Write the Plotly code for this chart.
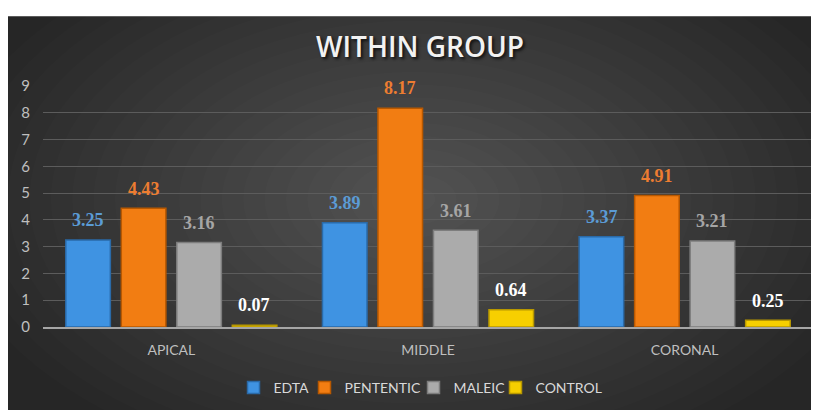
import plotly.graph_objects as go

categories = ["APICAL", "MIDDLE", "CORONAL"]
series_names = ["EDTA", "PENTENTIC", "MALEIC", "CONTROL"]
edta = [3.25, 3.89, 3.37]
pententic = [4.43, 8.17, 4.91]
maleic = [3.16, 3.61, 3.21]
control = [0.07, 0.64, 0.25]
y_ticks = [0, 1, 2, 3, 4, 5, 6, 7, 8, 9]

values = [edta, pententic, maleic, control]
bar_colors = ["#3f93e2", "#f27d12", "#ababab", "#f7cf00"]
edge_colors = ["#2a6aa8", "#b85800", "#7d7d7d", "#b89800"]
label_colors = ["#5b9bd5", "#ed7d31", "#a5a5a5", "#ffffff"]
legend_widths = [26, 64, 37, 70]

# page has the default 8px body margin; full page (418 tall) is fitted to 410
OFF = 8
WIN_W, WIN_H = 819, 410
S = (WIN_H + 2 * OFF) / WIN_H
W, H = WIN_W - OFF, WIN_H - OFF


def fy(page_y):
    return page_y * S - OFF


AX_L, AX_R, AX_T, AX_B = 43, 813, 83, 332
ML, MR = AX_L - OFF, WIN_W - AX_R
MT, MB = fy(AX_T), H - fy(AX_B)
PW, PH = AX_R - AX_L, AX_B - AX_T


def px_x(px):
    return (px - AX_L) / PW


def px_y(py):
    return (AX_B - py) / PH


fig = go.Figure()
for name, vals, c, e, lw in zip(series_names, values, bar_colors, edge_colors, legend_widths):
    fig.add_trace(go.Bar(
        name=name, x=categories, y=vals,
        marker=dict(color=c, line=dict(color=e, width=1.5)),
        legendwidth=lw,
        hoverinfo="x+y",
    ))

shapes = []
shapes.append(dict(type="rect", xref="paper", yref="paper",
                   x0=px_x(8), x1=px_x(830), y0=px_y(430), y1=px_y(11),
                   fillcolor="#262626", line=dict(width=0), layer="below"))
n = 22
cx, cy = 414, 200
for i in range(n):
    k = 1 - i / n
    rx, ry = 470 * k, 290 * k
    shapes.append(dict(type="circle", xref="paper", yref="paper",
                       x0=px_x(cx - rx), x1=px_x(cx + rx),
                       y0=px_y(cy + ry), y1=px_y(cy - ry),
                       fillcolor="rgba(255,255,255,0.013)",
                       line=dict(width=0), layer="below"))

slot = 55.4
annotations = []
for si, (vals, lc) in enumerate(zip(values, label_colors)):
    for cat, v in zip(categories, vals):
        annotations.append(dict(
            x=cat, y=v, xref="x", yref="y", text=f"<b>{v:.2f}</b>",
            showarrow=False, xshift=(si - 1.5) * slot, yshift=19 * S,
            yanchor="middle", xanchor="center",
            font=dict(family="Liberation Serif", size=18, color=lc),
        ))

fig.update_layout(
    width=W, height=H,
    margin=dict(l=ML, r=MR, t=MT, b=MB, pad=0),
    paper_bgcolor="#ffffff",
    plot_bgcolor="rgba(0,0,0,0)",
    barmode="group", bargap=0.135, bargroupgap=0.197,
    shapes=shapes, annotations=annotations,
    title=dict(text="WITHIN GROUP", x=(420 - OFF) / W, xanchor="center",
               y=1 - fy(45) / H, yanchor="middle",
               font=dict(family="Open Sans", size=28, color="#f2f2f2",
                         weight=600, shadow="2px 2px 3px #111111")),
    font=dict(family="Lato", color="#bfbfbf"),
    showlegend=True,
    legend=dict(orientation="h", x=px_x(422), xanchor="center",
                y=px_y(395), yanchor="middle",
                font=dict(family="Lato", size=14, color="#d9d9d9"),
                bgcolor="rgba(0,0,0,0)", traceorder="normal"),
    xaxis=dict(showgrid=False, showline=True, linecolor="#a6a6a6", linewidth=2,
               ticks="", tickfont=dict(size=14, color="#bfbfbf"),
               ticklabelstandoff=9),
    yaxis=dict(range=[0, 9], tickvals=y_ticks, showgrid=True,
               gridcolor="#5c5c5c", gridwidth=1, zeroline=False,
               showline=False, ticks="",
               tickfont=dict(size=15, color="#bfbfbf"),
               ticklabelstandoff=12),
)

fig.write_html("out.html", config={"displayModeBar": False})
